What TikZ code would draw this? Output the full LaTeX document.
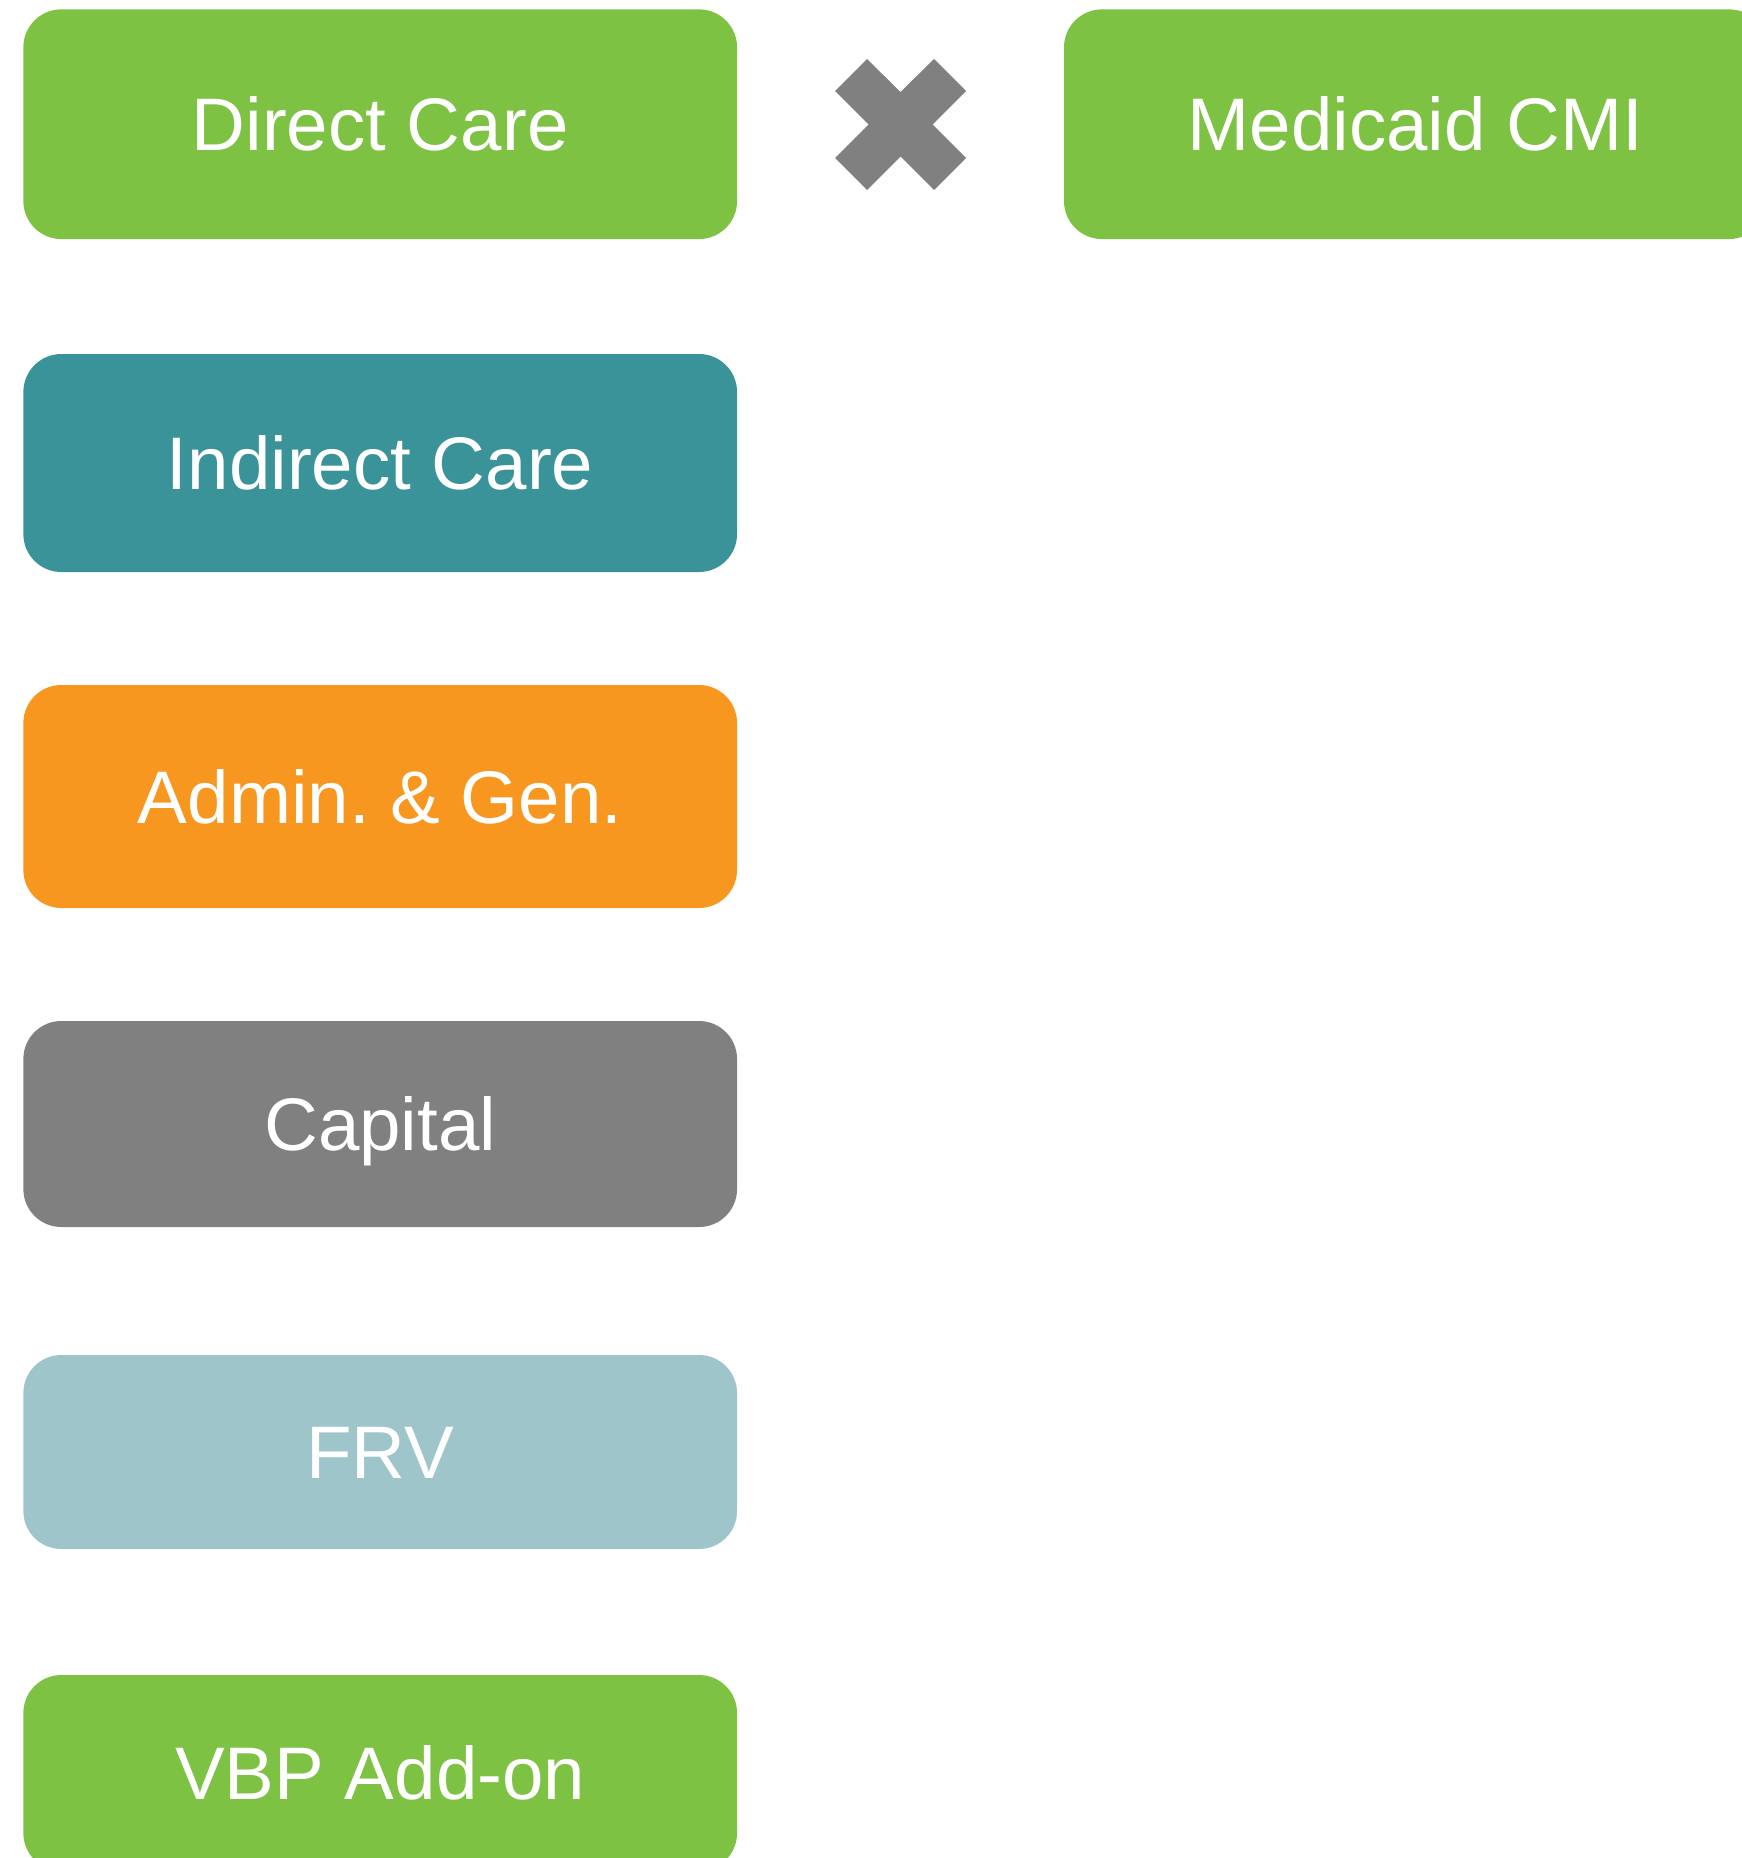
\documentclass[tikz,border=0pt]{standalone}
\usepackage{fontspec}
\setmainfont{Liberation Sans}
\frenchspacing
\definecolor{leafgreen}{HTML}{7DC243}
\definecolor{tealblue}{HTML}{3A9399}
\definecolor{amber}{HTML}{F7971F}
\definecolor{midgray}{HTML}{808080}
\definecolor{paleteal}{HTML}{9DC5CA}
\begin{document}
\begin{tikzpicture}[x=1pt,y=-1pt,
  costbox/.style={fill=#1, draw=none, rounded corners=38pt, inner sep=0pt,
    text=white, font=\fontsize{74.5}{80}\selectfont,
    text height=53.3pt, text depth=0pt},
  leftbox/.style={costbox=#1, minimum width=713.7pt}]
\useasboundingbox (0,0) rectangle (1742,1858);
\clip (0,0) rectangle (1742,1858);

% rate components
\node[leftbox=leafgreen, minimum height=229.7pt] (direct)   at (380.2,124.2) {Direct Care};
\node[leftbox=tealblue,  minimum height=218pt]   (indirect) at (380.2,463)   {Indirect Care};
\node[leftbox=amber,     minimum height=223pt]   (admin)    at (380.2,796.5) {Admin.\ \& Gen.};
\node[leftbox=midgray,   minimum height=206pt]   (capital)  at (380.2,1124)  {Capital};
\node[leftbox=paleteal,  minimum height=194pt]   (frv)      at (380.2,1452)  {FRV};
\node[leftbox=leafgreen, minimum height=196pt]   (vbp)      at (380.2,1773)  {VBP Add-on};

% case-mix adjustment
\node[costbox=leafgreen, minimum width=703pt, minimum height=229.7pt] (cmi) at (1415.5,124.2) {Medicaid CMI};

% multiplication sign between the two top boxes
\coordinate (times) at (900.5,124.5);
\fill[midgray] (times)
  ++(-33.5,-65.5) -- ++(33.5,33) -- ++(33.5,-33) -- ++(32,32)
  -- ++(-33.5,33.5) -- ++(33.5,33.5) -- ++(-32,32) -- ++(-33.5,-33.5)
  -- ++(-33.5,33.5) -- ++(-32,-32) -- ++(33.5,-33.5) -- ++(-33.5,-33.5) -- cycle;
\end{tikzpicture}
\end{document}
